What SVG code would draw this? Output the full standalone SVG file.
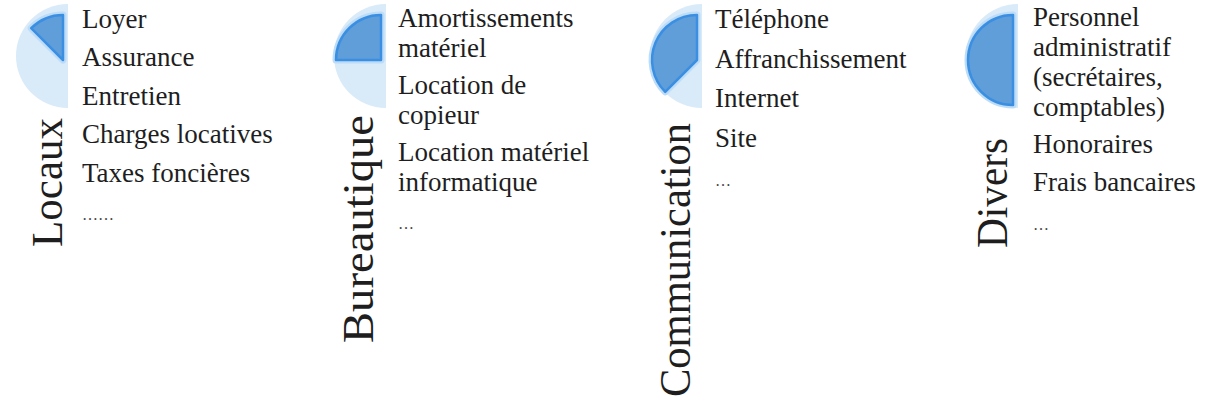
<svg xmlns="http://www.w3.org/2000/svg" width="1210" height="407" viewBox="0 0 1210 407">
<style>
.bg{fill:#d9eaf9}
.halo{fill:none;stroke:#bcdcf7;stroke-width:7;stroke-linejoin:round}
.wedge{fill:#609ed9;stroke:#3a8fe3;stroke-width:2.5;stroke-linejoin:round}
.item{font-family:"Liberation Serif","Times New Roman",serif;font-size:27px;fill:#1e1e1e}
.dots{font-family:"Liberation Serif","Times New Roman",serif;font-size:16px;fill:#444}
.label{font-family:"Liberation Serif","Times New Roman",serif;font-size:44px;fill:#1e1e1e}
</style>
<rect width="1210" height="407" fill="#ffffff"/>

<g id="locaux">
  <path class="bg" d="M68 4 A52 52 0 0 0 68 108 Z"/>
  <path class="halo" d="M63 60 L63 15 A45 45 0 0 0 31.2 28.2 Z"/>
  <path class="wedge" d="M63 60 L63 15 A45 45 0 0 0 31.2 28.2 Z"/>
  <text class="label" transform="translate(62 247) rotate(-90)" textLength="129" lengthAdjust="spacingAndGlyphs">Locaux</text>
  <text class="item" x="82" y="27.5">Loyer</text>
  <text class="item" x="82" y="66">Assurance</text>
  <text class="item" x="82" y="104.5">Entretien</text>
  <text class="item" x="82" y="143">Charges locatives</text>
  <text class="item" x="82" y="181.5">Taxes foncières</text>
  <text class="dots" x="82" y="220">……</text>
</g>

<g id="bureautique">
  <path class="bg" d="M386 4 A52 52 0 0 0 386 108 Z"/>
  <path class="halo" d="M381 60 L381 15 A45 45 0 0 0 336 60 Z"/>
  <path class="wedge" d="M381 60 L381 15 A45 45 0 0 0 336 60 Z"/>
  <text class="label" transform="translate(373 343) rotate(-90)" textLength="228" lengthAdjust="spacingAndGlyphs">Bureautique</text>
  <text class="item" x="398" y="27">Amortissements</text>
  <text class="item" x="398" y="57">matériel</text>
  <text class="item" x="398" y="94">Location de</text>
  <text class="item" x="398" y="124">copieur</text>
  <text class="item" x="398" y="161">Location matériel</text>
  <text class="item" x="398" y="191">informatique</text>
  <text class="dots" x="398" y="229">…</text>
</g>

<g id="communication">
  <path class="bg" d="M702 4 A52 52 0 0 0 702 108 Z"/>
  <path class="halo" d="M697 60 L697 15 A45 45 0 0 0 665.2 91.8 Z"/>
  <path class="wedge" d="M697 60 L697 15 A45 45 0 0 0 665.2 91.8 Z"/>
  <text class="label" transform="translate(690 397) rotate(-90)" textLength="274" lengthAdjust="spacingAndGlyphs">Communication</text>
  <text class="item" x="715" y="28">Téléphone</text>
  <text class="item" x="715" y="67.5">Affranchissement</text>
  <text class="item" x="715" y="107">Internet</text>
  <text class="item" x="715" y="146.5">Site</text>
  <text class="dots" x="715" y="186">…</text>
</g>

<g id="divers">
  <path class="bg" d="M1018 4 A52 52 0 0 0 1018 108 Z"/>
  <path class="halo" d="M1013 60 L1013 15 A45 45 0 0 0 1013 105 Z"/>
  <path class="wedge" d="M1013 60 L1013 15 A45 45 0 0 0 1013 105 Z"/>
  <text class="label" transform="translate(1007 248) rotate(-90)" textLength="110" lengthAdjust="spacingAndGlyphs">Divers</text>
  <text class="item" x="1033" y="26">Personnel</text>
  <text class="item" x="1033" y="56">administratif</text>
  <text class="item" x="1033" y="86">(secrétaires,</text>
  <text class="item" x="1033" y="116">comptables)</text>
  <text class="item" x="1033" y="153">Honoraires</text>
  <text class="item" x="1033" y="191">Frais bancaires</text>
  <text class="dots" x="1033" y="230">…</text>
</g>
</svg>
